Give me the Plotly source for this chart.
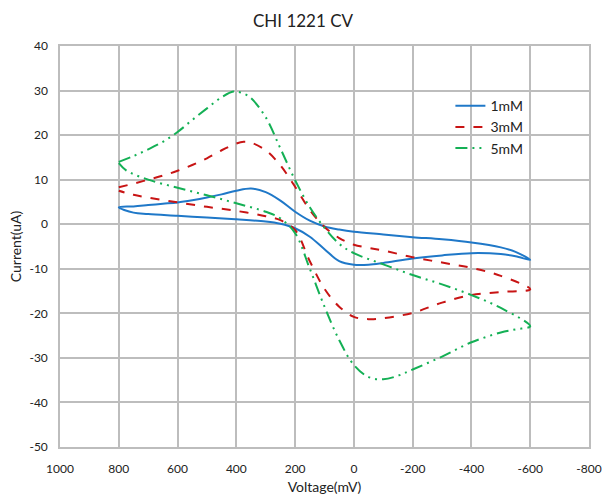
import plotly.graph_objects as go

# 1mM (blue) loop: forward branch then return branch
v_1mM = [800, 750, 700, 650, 600, 550, 500, 450, 400, 350, 300, 250, 200, 150, 100, 50, 0, -100, -200, -300, -400, -500, -550, -600,
         -550, -500, -400, -300, -200, -100, -50, 0, 50, 100, 150, 200, 250, 300, 400, 500, 600, 700, 750, 800]
i_1mM = [3.8, 4.0, 4.3, 4.6, 4.9, 5.4, 6.0, 6.7, 7.5, 8.0, 7.2, 5.3, 2.8, 0.8, -0.5, -1.2, -1.7, -2.3, -2.9, -3.4, -4.1, -5.2, -6.2, -8.0,
         -7.2, -6.7, -6.5, -7.0, -7.7, -8.7, -9.1, -9.1, -8.3, -5.6, -2.8, -0.9, 0.1, 0.6, 1.1, 1.5, 1.9, 2.3, 2.6, 3.8]

# 3mM (red)
v_3mM = [800, 750, 700, 650, 600, 550, 500, 450, 400, 375, 350, 300, 250, 200, 150, 100, 50, 0, -50, -100, -200, -300, -400, -500, -600,
         -500, -400, -300, -200, -100, -50, 0, 50, 100, 150, 200, 250, 300, 400, 500, 600, 700, 750, 800]
i_3mM = [8.3, 9.1, 10.0, 10.9, 12.0, 13.3, 14.8, 16.6, 18.1, 18.5, 18.3, 16.6, 13.2, 8.4, 3.2, -0.6, -3.1, -4.6, -5.3, -5.9, -7.4, -8.6, -9.8, -11.6, -14.6,
         -15.2, -15.9, -17.6, -19.9, -21.1, -21.3, -20.8, -18.5, -14.5, -8.3, -1.3, 0.9, 1.8, 3.0, 3.9, 4.9, 6.0, 6.6, 7.5]

# 5mM (green)
v_5mM = [800, 750, 700, 650, 600, 550, 500, 450, 410, 375, 350, 300, 250, 200, 150, 100, 50, 0, -100, -200, -300, -400, -500, -600,
         -550, -500, -400, -300, -200, -150, -100, -50, 0, 50, 100, 150, 200, 250, 300, 400, 500, 600, 700, 775, 800]
i_5mM = [14.0, 15.3, 16.8, 18.5, 20.7, 23.4, 26.0, 28.5, 29.8, 29.3, 28.3, 24.0, 17.0, 9.9, 3.8, -0.8, -4.4, -6.5, -9.0, -11.4, -13.5, -15.9, -18.8, -22.9,
         -23.6, -24.3, -26.5, -29.7, -32.6, -34.0, -34.8, -34.3, -31.6, -26.0, -18.5, -10.0, -2.0, 1.3, 2.8, 4.7, 6.5, 8.2, 10.0, 12.1, 13.7]

series_names = ["1mM", "3mM", "5mM"]
colors = ["#1f78c8", "#c81414", "#14b055"]
dashes = ["solid", "dash", "12px,5px,2px,5px,2px,5px"]

x_ticks = [1000, 800, 600, 400, 200, 0, -200, -400, -600, -800]
y_ticks = [40, 30, 20, 10, 0, -10, -20, -30, -40, -50]

FONT = "Lato, 'Open Sans', sans-serif"

fig = go.Figure()
for name, vx, iy, c, d in zip(series_names, [v_1mM, v_3mM, v_5mM], [i_1mM, i_3mM, i_5mM], colors, dashes):
    fig.add_trace(go.Scatter(x=vx, y=iy, mode="lines", name=name,
                             line=dict(color=c, width=2, dash=d, shape="spline", smoothing=1.0)))

grid = "#bdbdbd"
fig.update_layout(
    width=606, height=495,
    margin=dict(l=60, r=17, t=46, b=48),
    paper_bgcolor="white", plot_bgcolor="white",
    font=dict(family=FONT, size=12, color="#222"),
    title=dict(text="CHI 1221 CV", x=0.5, xanchor="center", y=0.958, yanchor="middle",
               font=dict(family=FONT, size=17, color="#222")),
    legend=dict(x=0.738, y=0.89, xanchor="left", yanchor="top", bgcolor="rgba(0,0,0,0)",
                font=dict(family=FONT, size=14, color="#222"), tracegroupgap=0),
    showlegend=True,
)
fig.update_xaxes(range=[1000, -800], tickvals=x_ticks, ticktext=[str(t) for t in x_ticks],
                 automargin=False,
                 showgrid=True, gridcolor=grid, gridwidth=1.5, zeroline=False,
                 showline=True, linecolor=grid, linewidth=1.5, mirror=True,
                 ticks="outside", ticklen=10, tickcolor="rgba(0,0,0,0)",
                 title=dict(text="Voltage(mV)", font=dict(family=FONT, size=14), standoff=12))
fig.update_yaxes(range=[-50, 40], tickvals=y_ticks, ticktext=[str(t) for t in y_ticks],
                 automargin=False,
                 showgrid=True, gridcolor=grid, gridwidth=1.5, zeroline=False,
                 showline=True, linecolor=grid, linewidth=1.5, mirror=True,
                 ticks="outside", ticklen=8, tickcolor="rgba(0,0,0,0)",
                 title=dict(text="Current(uA)", font=dict(family=FONT, size=14), standoff=5))

fig.write_html("out.html")
